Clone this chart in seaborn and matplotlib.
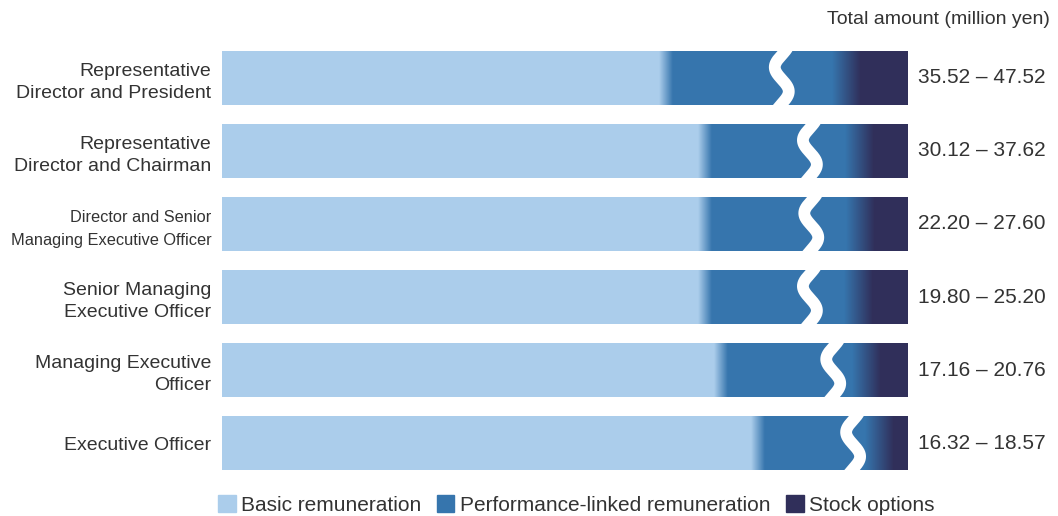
import numpy as np
import pandas as pd
import matplotlib
matplotlib.use("Agg")
import matplotlib.pyplot as plt
import seaborn as sns
from matplotlib.patches import Patch
from matplotlib.colors import LinearSegmentedColormap
from matplotlib import font_manager

# ---------------- data ----------------
positions = [
    "Representative\nDirector and President",
    "Representative\nDirector and Chairman",
    "Director and Senior\nManaging Executive Officer",
    "Senior Managing\nExecutive Officer",
    "Managing Executive\nOfficer",
    "Executive Officer",
]
basic = [64.7, 70.3, 70.4, 70.4, 72.6, 78.0]        # % of bar
performance = [26.3, 22.6, 22.6, 22.3, 21.3, 17.9]  # % of bar
stock = [9.0, 7.1, 7.0, 7.3, 6.1, 4.1]              # % of bar
totals = ["35.52 – 47.52", "30.12 – 37.62", "22.20 – 27.60",
          "19.80 – 25.20", "17.16 – 20.76", "16.32 – 18.57"]
break_pos = [81.6, 85.7, 85.9, 85.7, 89.1, 92.0]   # wavy break marks (decoration)

C_BASIC = "#abcdeb"
C_PERF = "#3675ad"
C_STOCK = "#302f5a"
TXT = "#333333"

df = pd.DataFrame({"position": positions, "basic": basic,
                   "performance": performance, "stock": stock})
df["c1"] = df["basic"]
df["c2"] = df["basic"] + df["performance"]
df["c3"] = df["c2"] + df["stock"]

sns.set_style("white")
plt.rcParams["font.family"] = ["Liberation Sans", "DejaVu Sans"]

fig = plt.figure(figsize=(10.58, 5.16), dpi=100)
W, H = 1058, 516
ax = fig.add_axes([222 / W, 1 - 470 / H, (908 - 222) / W, (470 - 51) / H])

bw = 0.739
sns.barplot(data=df, x="c3", y="position", orient="h", color=C_STOCK,
            width=bw, linewidth=0, saturation=1, ax=ax)
sns.barplot(data=df, x="c2", y="position", orient="h", color=C_PERF,
            width=bw, linewidth=0, saturation=1, ax=ax)
sns.barplot(data=df, x="c1", y="position", orient="h", color=C_BASIC,
            width=bw, linewidth=0, saturation=1, ax=ax)

ax.set_xlim(0, 100)
ax.set_ylim(len(positions) - 1 + bw / 2, -bw / 2)

# gradients between segments
cm1 = LinearSegmentedColormap.from_list("g1", [C_BASIC, C_PERF])
cm2 = LinearSegmentedColormap.from_list("g2", [C_PERF, C_STOCK])
grad = np.linspace(0, 1, 64).reshape(1, -1)
g1w, g2w = 1.9, 4.2
px = 100 / 686.0
for i in range(len(positions)):
    e1 = df["c1"][i]
    e2 = df["c2"][i]
    ax.imshow(grad, cmap=cm1, aspect="auto", interpolation="bilinear",
              extent=(e1 - g1w / 2, e1 + g1w / 2, i + bw / 2, i - bw / 2), zorder=3)
    ax.imshow(grad, cmap=cm2, aspect="auto", interpolation="bilinear",
              extent=(e2 - g2w / 2, e2 + g2w / 2, i + bw / 2, i - bw / 2), zorder=3)
    # wavy break
    t = np.linspace(-0.15, 1.15, 200)
    xo = 7.0 * px * np.sin(2 * np.pi * (t - 0.3) / 0.9 - np.pi / 2)
    yy = i - bw / 2 + t * bw
    ax.plot(break_pos[i] + xo, yy, color="white", lw=8.5, solid_capstyle="butt",
            zorder=4, clip_on=True)
    ax.annotate(totals[i], xy=(100, i), xytext=(7.5, 0), textcoords="offset points",
                ha="left", va="center", fontsize=15, color=TXT, annotation_clip=False)

ax.set_xlim(0, 100)
ax.set_ylim(len(positions) - 1 + bw / 2, -bw / 2)

# y labels
ax.set_xlabel("")
ax.set_ylabel("")
ax.set_xticks([])
names = {f.name for f in font_manager.fontManager.ttflist}
ax.set_yticks(range(len(positions)))
ax.set_yticklabels(positions)
for k, lab in enumerate(ax.get_yticklabels()):
    lab.set_color(TXT)
    lab.set_fontsize(14)
    lab.set_linespacing(1.38)
    lab.set_horizontalalignment("right")
    if k == 2:
        if "Liberation Sans Narrow" in names:
            lab.set_family(["Liberation Sans Narrow", "Liberation Sans"])
            lab.set_fontsize(14)
        else:
            lab.set_fontsize(11.8)
            lab.set_linespacing(1.6)
ax.tick_params(axis="y", length=0, pad=7.5)
for s in ax.spines.values():
    s.set_visible(False)

fig.text(1050 / W, 1 - 20 / H, "Total amount (million yen)", ha="right",
         va="center", fontsize=14, color=TXT)

handles = [Patch(color=C_BASIC, label="Basic remuneration"),
           Patch(color=C_PERF, label="Performance-linked remuneration"),
           Patch(color=C_STOCK, label="Stock options")]
leg = fig.legend(handles=handles, loc="center left", bbox_to_anchor=(218 / W, 1 - 505 / H),
                 ncol=3, frameon=False, fontsize=15, handlelength=0.85,
                 handleheight=0.85, handletextpad=0.25, columnspacing=0.75,
                 borderpad=0, borderaxespad=0)
for tx in leg.get_texts():
    tx.set_color(TXT)

fig.savefig("out.png", dpi=100)
